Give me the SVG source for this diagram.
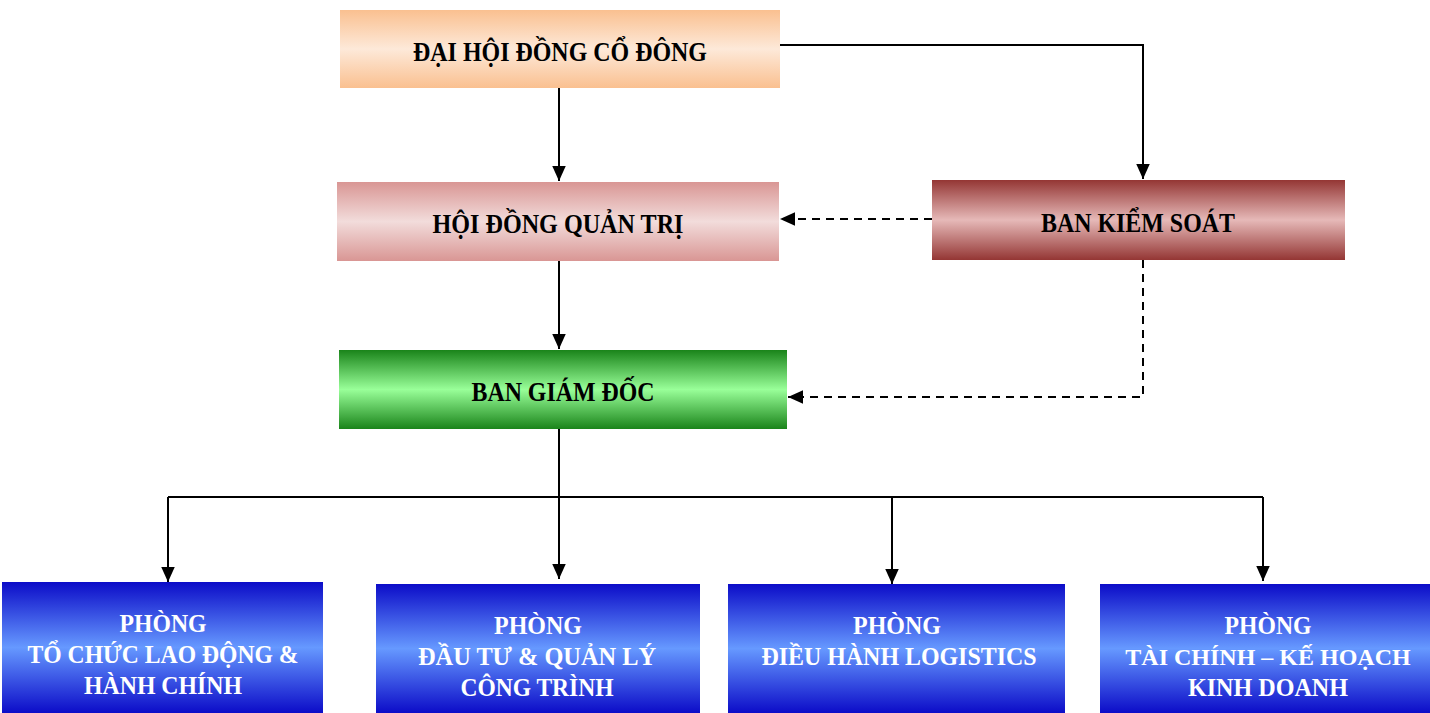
<svg xmlns="http://www.w3.org/2000/svg" width="1430" height="713" viewBox="0 0 1430 713">
<defs>
<linearGradient id="gPeach" x1="0" y1="0" x2="0" y2="1"><stop offset="0" stop-color="#FAC090"/><stop offset="0.5" stop-color="#FDE9D9"/><stop offset="1" stop-color="#FAC090"/></linearGradient>
<linearGradient id="gPink" x1="0" y1="0" x2="0" y2="1"><stop offset="0" stop-color="#D99694"/><stop offset="0.5" stop-color="#F2DCDB"/><stop offset="1" stop-color="#D99694"/></linearGradient>
<linearGradient id="gRed" x1="0" y1="0" x2="0" y2="1"><stop offset="0" stop-color="#943634"/><stop offset="0.5" stop-color="#E6B9B8"/><stop offset="1" stop-color="#943634"/></linearGradient>
<linearGradient id="gGreen" x1="0" y1="0" x2="0" y2="1"><stop offset="0" stop-color="#1A841A"/><stop offset="0.5" stop-color="#99FF99"/><stop offset="1" stop-color="#1A841A"/></linearGradient>
<linearGradient id="gBlue" x1="0" y1="0" x2="0" y2="1"><stop offset="0" stop-color="#0C0CC8"/><stop offset="0.5" stop-color="#6699FF"/><stop offset="1" stop-color="#0C0CC8"/></linearGradient>
<marker id="arr" viewBox="0 0 10 10" refX="10" refY="5" markerWidth="15" markerHeight="15" markerUnits="userSpaceOnUse" orient="auto"><path d="M0,0.5 L10,5 L0,9.5 z" fill="#000"/></marker>
</defs>
<style>
.t{font-family:"Liberation Serif","DejaVu Serif",serif;font-weight:bold;font-size:27px;text-anchor:middle;fill:#000}
.w{font-family:"Liberation Serif","DejaVu Serif",serif;font-weight:bold;font-size:26px;text-anchor:middle;fill:#fff}
.c{fill:none;stroke:#000;stroke-width:2}
.d{fill:none;stroke:#000;stroke-width:2;stroke-dasharray:8,6}
</style>
<rect width="1430" height="713" fill="#fff"/>
<g id="connectors">
<path class="c" d="M559,88 V181" marker-end="url(#arr)"/>
<path class="c" d="M780,45 H1143 V179" marker-end="url(#arr)"/>
<path class="d" d="M932,219 H780" marker-end="url(#arr)"/>
<path class="c" d="M559,261 V349" marker-end="url(#arr)"/>
<path class="d" d="M1143,260 V397 H788" marker-end="url(#arr)"/>
<path class="c" d="M559,429 V497"/>
<path class="c" d="M168,497 H1263"/>
<path class="c" d="M168,497 V582" marker-end="url(#arr)"/>
<path class="c" d="M559,497 V579" marker-end="url(#arr)"/>
<path class="c" d="M892,497 V584" marker-end="url(#arr)"/>
<path class="c" d="M1263,497 V581" marker-end="url(#arr)"/>
</g>
<g id="n1"><rect x="340" y="10" width="440" height="78" fill="url(#gPeach)"/><text class="t" x="560" y="61" textLength="294" lengthAdjust="spacingAndGlyphs">ĐẠI HỘI ĐỒNG CỔ ĐÔNG</text></g>
<g id="n2"><rect x="337" y="182" width="442" height="79" fill="url(#gPink)"/><text class="t" x="558" y="233" textLength="251" lengthAdjust="spacingAndGlyphs">HỘI ĐỒNG QUẢN TRỊ</text></g>
<g id="n3"><rect x="932" y="180" width="413" height="80" fill="url(#gRed)"/><text class="t" x="1138" y="232" textLength="194" lengthAdjust="spacingAndGlyphs">BAN KIỂM SOÁT</text></g>
<g id="n4"><rect x="339" y="350" width="448" height="79" fill="url(#gGreen)"/><text class="t" x="563" y="401" textLength="183" lengthAdjust="spacingAndGlyphs">BAN GIÁM ĐỐC</text></g>
<g id="n5"><rect x="2" y="582" width="321" height="131" fill="url(#gBlue)"/><text class="w" x="163" y="632" textLength="87" lengthAdjust="spacingAndGlyphs">PHÒNG</text><text class="w" x="163" y="663" textLength="271" lengthAdjust="spacingAndGlyphs">TỔ CHỨC LAO ĐỘNG &amp;</text><text class="w" x="163" y="694" textLength="158" lengthAdjust="spacingAndGlyphs">HÀNH CHÍNH</text></g>
<g id="n6"><rect x="376" y="584" width="324" height="129" fill="url(#gBlue)"/><text class="w" x="538" y="634" textLength="88" lengthAdjust="spacingAndGlyphs">PHÒNG</text><text class="w" x="537" y="665" textLength="238" lengthAdjust="spacingAndGlyphs">ĐẦU TƯ &amp; QUẢN LÝ</text><text class="w" x="537" y="696" textLength="153" lengthAdjust="spacingAndGlyphs">CÔNG TRÌNH</text></g>
<g id="n7"><rect x="728" y="584" width="337" height="129" fill="url(#gBlue)"/><text class="w" x="897" y="634" textLength="88" lengthAdjust="spacingAndGlyphs">PHÒNG</text><text class="w" x="899" y="665" textLength="275" lengthAdjust="spacingAndGlyphs">ĐIỀU HÀNH LOGISTICS</text></g>
<g id="n8"><rect x="1100" y="584" width="330" height="129" fill="url(#gBlue)"/><text class="w" x="1268" y="634" textLength="87" lengthAdjust="spacingAndGlyphs">PHÒNG</text><text class="w" x="1268" y="665" style="font-size:24px">TÀI CHÍNH – KẾ HOẠCH</text><text class="w" x="1268" y="696" textLength="160" lengthAdjust="spacingAndGlyphs">KINH DOANH</text></g>
</svg>
